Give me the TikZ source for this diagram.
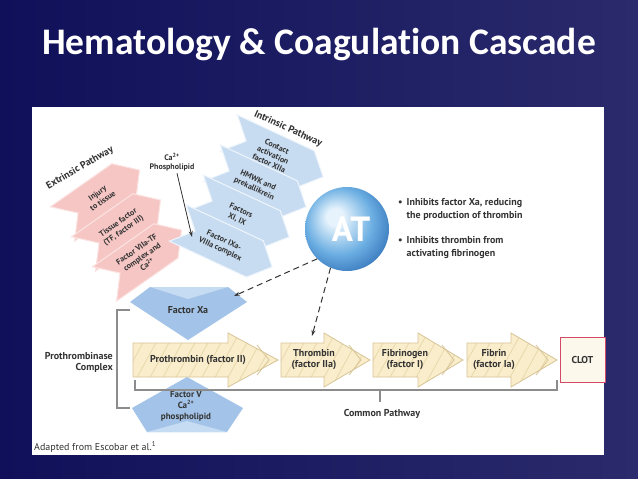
\documentclass[tikz,border=0pt]{standalone}
\usepackage{fontspec}
\setmainfont{PT Sans}
\newfontfamily\titlefont[Ligatures=NoCommon]{Carlito}
\usetikzlibrary{arrows.meta}
\definecolor{bgL}{HTML}{10105A}
\definecolor{bgM}{HTML}{3E3E7E}
\definecolor{bgR}{HTML}{2A2A6C}
\definecolor{txt}{HTML}{333333}
\definecolor{pinkF}{HTML}{F5C6C4}
\definecolor{pinkE}{HTML}{FBE4E2}
\definecolor{blueF}{HTML}{C8DCF1}
\definecolor{blueE}{HTML}{EEF5FC}
\definecolor{facF}{HTML}{A3C4E8}
\definecolor{facL}{HTML}{C6DCF2}
\definecolor{yelF}{HTML}{F9EDCB}
\definecolor{yelE}{HTML}{D8C597}
\definecolor{yelH}{HTML}{E9D8AC}
\definecolor{clotE}{HTML}{D24A68}
\definecolor{clotF}{HTML}{FDF8EC}
\definecolor{brk}{HTML}{8C8C8C}
\definecolor{atlight}{HTML}{E6F3FC}
\definecolor{atmid}{HTML}{6BAEE2}
\definecolor{atdark}{HTML}{2F6EB6}
\pgfdeclareradialshading{atball}{\pgfpoint{-8bp}{8bp}}{color(0bp)=(atlight); color(5bp)=(atlight); color(20bp)=(atmid); color(33bp)=(atdark); color(50bp)=(atdark)}
\tikzset{
  chev/.pic={\path[pic actions] (-52,-20) -- (33,-20) -- (52,0) -- (33,20) -- (-52,20) -- (-33,0) -- cycle;},
  pchev/.pic={\path[pic actions] (-47,-21) -- (28,-21) -- (47,0) -- (28,21) -- (-47,21) -- (-28,0) -- cycle;},
  pinkchev/.style={fill=pinkF, draw=pinkE, line width=1pt},
  bluechev/.style={fill=blueF, draw=blueE, line width=1pt},
  ctext/.style={text=txt, font=\bfseries\fontsize{8}{9.4}\selectfont, align=center, inner sep=0pt},
  lbl/.style={text=txt, font=\bfseries\fontsize{10}{11}\selectfont, align=center, inner sep=0pt},
  ytext/.style={text=txt, font=\bfseries\fontsize{10}{11}\selectfont, align=center, inner sep=0pt},
  yfill/.style={fill=yelF},
  yline/.style={draw=yelE, line width=0.8pt},
  hatch/.style={draw=yelH, line width=0.8pt},
  brkline/.style={draw=brk, line width=1.2pt},
  arr/.style={draw=txt, line width=0.8pt, -{Stealth[length=6pt,width=4pt]}},
  dasharr/.style={draw=txt, line width=1pt, dash pattern=on 6pt off 4pt, -{Stealth[length=6pt,width=4pt]}},
}
\newcommand\yarr[4]{%
  \path[yfill] (#2,343) -- (#3,343) -- (#3,333) -- (#4,360) -- (#3,387) -- (#3,377) -- (#2,377) -- cycle;
  \begin{scope}
    \clip (#2,343) -- (#3,343) -- (#3,333) -- (#4,360) -- (#3,387) -- (#3,377) -- (#2,377) -- cycle;
    \foreach \i in {0,...,14} \draw[hatch] ({#2-30+13*\i},392) -- ++(34,-62);
  \end{scope}
  \path[yline] (#2,343) -- (#3,343) -- (#3,333) -- (#4,360) -- (#3,387) -- (#3,377) -- (#2,377) -- cycle;
  \path[yline] ({#4-21},345) -- ({#4-9},360) -- ({#4-21},375);
  \coordinate (#1) at ({(#2+#4)/2},360);
}
\begin{document}
\begin{tikzpicture}[x=1pt,y=-1pt]
\useasboundingbox (0,0) rectangle (638,479);
\shade[left color=bgL, middle color=bgM, right color=bgR] (0,0) rectangle (638,479);
\node[text=white, font=\titlefont\bfseries\fontsize{37.5}{40}\selectfont, inner sep=0pt] (title) at (319,45) {Hematology \& Coagulation Cascade};
\fill[white] (32,107) rectangle (604,455);

% pathway labels
\node[lbl, rotate=30] (extr) at (80,168) {Extrinsic Pathway};
\node[lbl, rotate=-24.5] (intr) at (288,129) {Intrinsic Pathway};

% extrinsic chevrons
\pic[pinkchev, rotate=35] (inj) at (101,197) {pchev};
\node[ctext, rotate=35] (injt) at (100,197) {Injury\\to tissue};
\pic[pinkchev, rotate=35] (tf) at (122,227) {pchev};
\node[ctext, rotate=35] (tft) at (121,227) {Tissue factor\\(TF, factor III)};
\pic[pinkchev, rotate=35] (vii) at (143,257) {pchev};
\node[ctext, rotate=35] (viit) at (142,257) {Factor VIIa-TF\\complex and\\Ca\textsuperscript{2+}};

% intrinsic chevrons
\pic[bluechev, rotate=-25] (xii) at (276,155) {chev};
\node[ctext, rotate=-25] (xiit) at (273,155) {Contact\\activation\\factor XIIa};
\pic[bluechev, rotate=-25] (hm) at (259,185) {chev};
\node[ctext, rotate=-25] (hmt) at (256,185) {HMWK and\\prekallikrein};
\pic[bluechev, rotate=-25] (xi) at (242,215) {chev};
\node[ctext, rotate=-25] (xit) at (239,215) {Factors\\XI, IX};
\pic[bluechev, rotate=-25] (ixa) at (225,245) {chev};
\node[ctext, rotate=-25] (ixat) at (222,245) {Factor IXa-\\VIIIa complex};
\coordinate (ixaT) at (192,237);

% Ca phospholipid
\node[ctext] (ca) at (172,162) {Ca\textsuperscript{2+}\\Phospholipid};
\draw[arr] ([xshift=5pt,yshift=-2pt]ca.south) -- (ixaT);

% AT sphere
\node[circle, minimum size=84pt, inner sep=0pt, shade, shading=atball] (at) at (347,229) {};
\node[text=white, font=\bfseries\fontsize{35}{35}\selectfont, inner sep=0pt] (att) at (351,229) {AT};

% bullets
\node[anchor=north west, text=txt, font=\bfseries\fontsize{10}{13}\selectfont, inner sep=0pt] (b1) at (398,196)
  {\begin{tabular}{@{}l@{\hspace{4pt}}l@{}}\textbullet & Inhibits factor Xa, reducing\\ & the production of thrombin\end{tabular}};
\node[anchor=north west, text=txt, font=\bfseries\fontsize{10}{13}\selectfont, inner sep=0pt] (b2) at (398,234)
  {\begin{tabular}{@{}l@{\hspace{4pt}}l@{}}\textbullet & Inhibits thrombin from\\ & activating fibrinogen\end{tabular}};

% yellow arrows
\yarr{pro}{133}{228}{278}
\yarr{thr}{281}{324}{370}
\yarr{fgn}{373}{418}{463}
\yarr{fbn}{467}{511}{557}
\node[ytext] (prot) at (198,360) {Prothrombin (factor II)};
\node[ytext] (thrt) at (314,360) {Thrombin\\(factor IIa)};
\node[ytext] (fgnt) at (405,360) {Fibrinogen\\(factor I)};
\node[ytext] (fbnt) at (494,360) {Fibrin\\(factor Ia)};
\node[draw=clotE, fill=clotF, line width=1pt, minimum width=45pt, minimum height=45pt, inner sep=0pt, text=txt, font=\bfseries\fontsize{10}{11}\selectfont] (clot) at (582.5,359.5) {CLOT};

% Factor Xa
\path[fill=facF] (150,287) -- (228,287) -- (247,302) -- (188,340) -- (130,302) -- cycle;
\path[fill=facL] (150,287) -- (228,287) -- (188,299) -- cycle;
\node[ytext] (xa) at (188,310) {Factor Xa};
\coordinate (xaR) at (234,296);

% Factor V
\path[fill=facF] (187,377) -- (243,408) -- (227,432) -- (147,432) -- (132,408) -- cycle;
\path[fill=facL] (147,432) -- (227,432) -- (187,421) -- cycle;
\node[ctext, font=\bfseries\fontsize{9}{11}\selectfont] (fv) at (186,406) {Factor V\\Ca\textsuperscript{2+}\\phospholipid};

% inhibition arrows
\coordinate (thrT) at (312,336);
\draw[dasharr] (at.225) -- (xaR);
\draw[dasharr] (at.247) -- (thrT);

% brackets
\draw[brkline] (130,310) -- (117,310) -- (117,408) -- (130,408);
\node[lbl, anchor=east, align=right] (ptc) at (113,362) {Prothrombinase\\Complex};
\draw[brkline] (135,380) -- (135,390) -- (557,390) -- (557,380);
\node[lbl] (cp) at (382,414) {Common Pathway};
\draw[brkline] (380,390) -- (380,402);

\node[anchor=west, text=txt, font=\fontsize{10}{11}\selectfont, inner sep=0pt] (adapt) at (34,447) {Adapted from Escobar et al.\textsuperscript{1}};
\end{tikzpicture}
\end{document}
